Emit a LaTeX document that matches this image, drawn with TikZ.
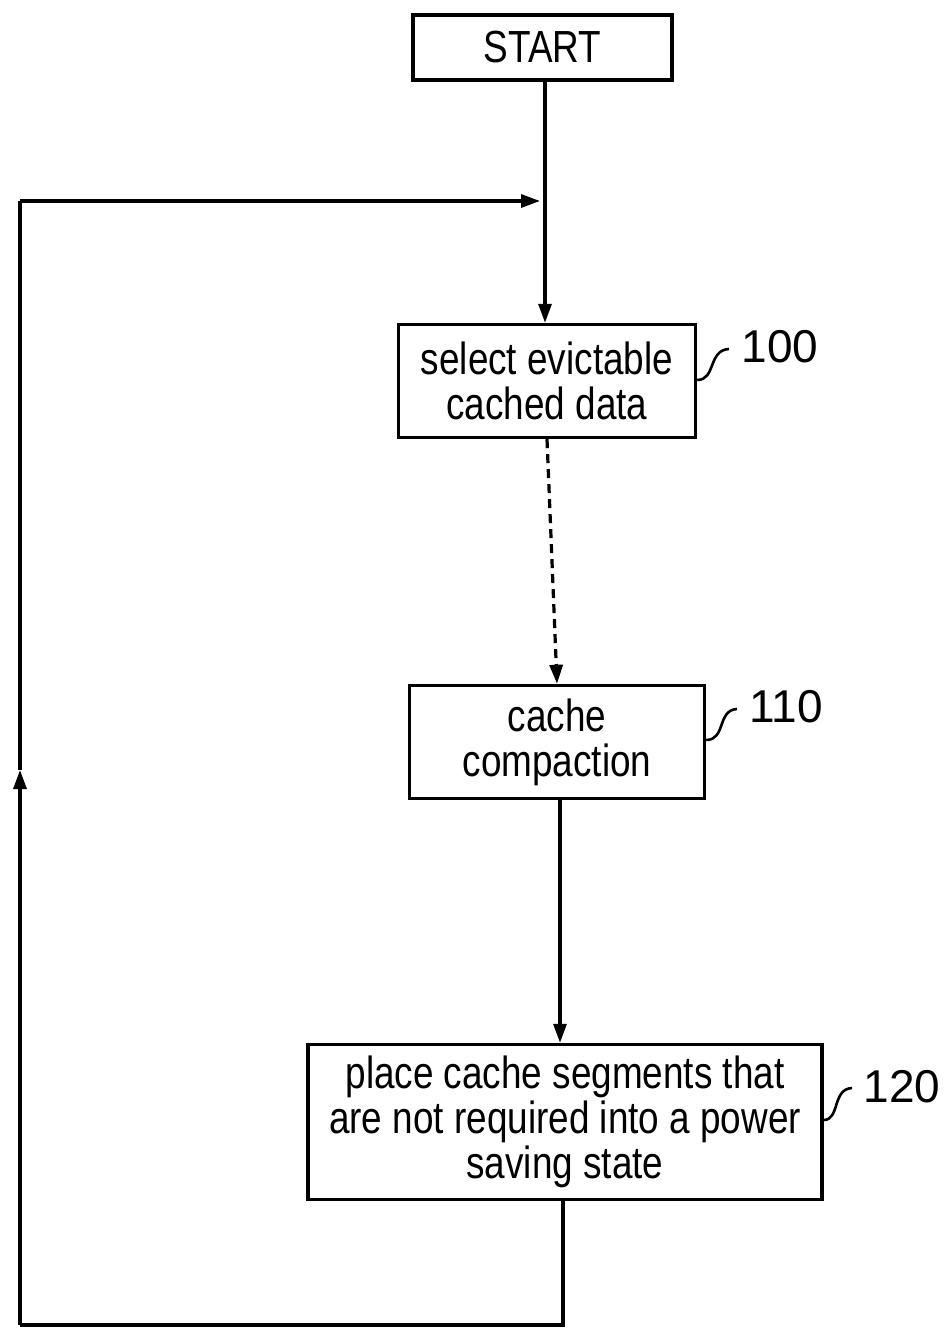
\documentclass[tikz,border=0pt]{standalone}
\usepackage{fontspec}
\setmainfont{Liberation Sans}[FakeStretch=0.82]
\newfontfamily\lblfont{Liberation Sans}
\usetikzlibrary{arrows.meta}
\tikzset{
  box/.style={draw, line width=3.4pt, align=center, inner sep=0pt,
    font=\fontsize{45}{45}\selectfont},
  conn/.style={line width=3.2pt},
  arr/.style={conn, -{Triangle[length=19pt,width=13pt]}},
  lbl/.style={font=\lblfont\fontsize{46}{46}\selectfont, inner sep=0pt},
  squig/.style={line width=2.6pt}
}
\begin{document}
\begin{tikzpicture}[x=1pt,y=-1pt]
\useasboundingbox (0,0) rectangle (944,1333);
% boxes
\node[box, minimum width=259pt, minimum height=65pt] (start) at (542.5,47.5) {START};
\node[box, minimum width=297pt, minimum height=113pt] (b100) at (547,381) {select evictable\\cached data};
\node[box, minimum width=295pt, minimum height=113pt] (b110) at (557,742) {cache\\compaction};
\node[box, minimum width=514pt, minimum height=155pt] (b120) at (565,1122) {place cache segments that\\are not required into a power\\saving state};
% labels
\node[lbl] (l100) at (780,347) {100};
\node[lbl] (l110) at (786,707) {110};
\node[lbl] (l120) at (902,1087) {120};
% squiggles
\coordinate (s100a) at (b100.east |- 0,380);
\coordinate (s100b) at (729,349);
\draw[squig] (s100a) .. controls (716,380) and (708,350) .. (s100b);
\coordinate (s110a) at (b110.east |- 0,740);
\coordinate (s110b) at (737,709);
\draw[squig] (s110a) .. controls (726,740) and (717,710) .. (s110b);
\coordinate (s120a) at (b120.east |- 0,1120);
\coordinate (s120b) at (852,1088);
\draw[squig] (s120a) .. controls (840,1120) and (832,1089) .. (s120b);
% connectors
\coordinate (j) at (545,201);
\coordinate (c1) at (563,1325);
\coordinate (c2) at (20,1325);
\coordinate (cm) at (20,770);
\coordinate (c3) at (20,201);
\draw[conn] (start.south -| j) -- (j);
\draw[arr] (j) -- (j |- b100.north);
\draw[arr, dash pattern=on 9pt off 6pt] (b100.south) -- (b110.north);
\draw[arr] (b110.south -| 560,0) -- (560,0 |- b120.north);
\draw[conn] (b120.south -| c1) -- (c1) -- (c2);
\draw[arr] (c2) -- (cm);
\draw[conn] (cm) -- (c3);
\draw[arr, shorten >=5pt] (c3) -- (j);
\end{tikzpicture}
\end{document}
